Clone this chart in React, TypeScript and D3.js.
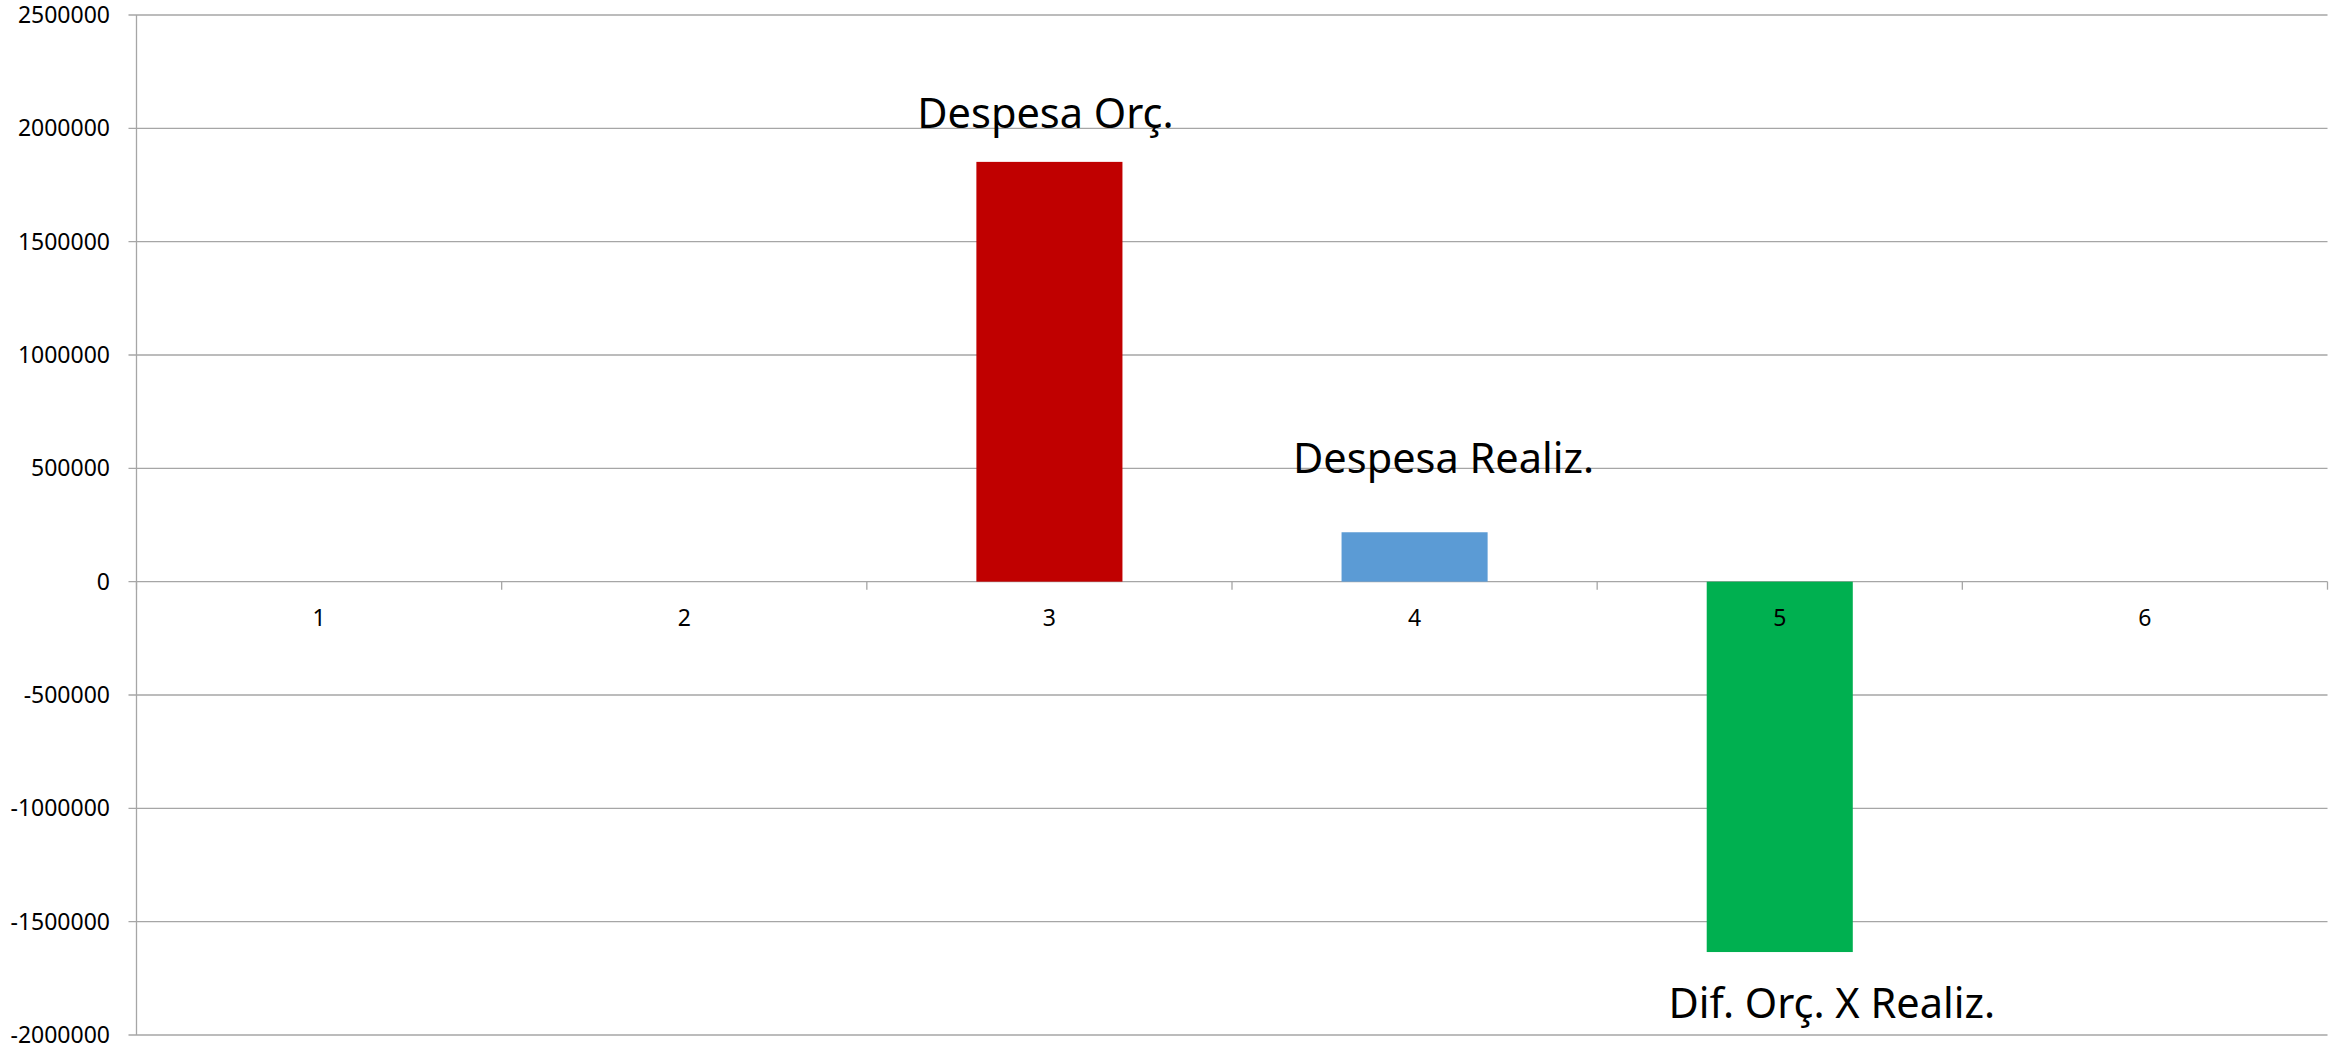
import React from "react";
import * as d3 from "d3";

const categories = ["1", "2", "3", "4", "5", "6"];
const seriesNames = ["Despesa Orç.", "Despesa Realiz.", "Dif. Orç. X Realiz."];
const seriesCategory = ["3", "4", "5"];
const seriesValues = [1852000, 218000, -1634000];
const seriesColors = ["#C00000", "#5B9BD5", "#00B050"];
const yTicks = [-2000000, -1500000, -1000000, -500000, 0, 500000, 1000000, 1500000, 2000000, 2500000];

// hand-placed data labels, px offset from bar end [dx, dy]
const labelOffsets = [
  [-4, -34],
  [29, -59],
  [52, 66],
];

const W = 2344;
const H = 1048;
const margin = { left: 136.5, right: 16.5, top: 15, bottom: 13 };
const gridColor = "#A6A6A6";
const font = "'Noto Sans', 'Open Sans', sans-serif";

export default function App() {
  const x = d3
    .scaleBand()
    .domain(categories)
    .range([margin.left, W - margin.right])
    .paddingInner(0.6)
    .paddingOuter(0.3);
  const y = d3
    .scaleLinear()
    .domain([-2000000, 2500000])
    .range([H - margin.bottom, margin.top]);

  const step = x.step();
  const y0 = y(0);

  return (
    <svg
      width={W}
      height={H}
      style={{ position: "absolute", left: 0, top: 0, background: "#fff" }}
    >
      {/* gridlines + y ticks */}
      {yTicks.map((t) => (
        <g key={t}>
          <line
            x1={margin.left - 8}
            x2={W - margin.right}
            y1={y(t)}
            y2={y(t)}
            stroke={gridColor}
            strokeWidth={1.3}
          />
          <text
            x={110}
            y={y(t) - 1}
            textAnchor="end"
            dominantBaseline="central"
            fontFamily={font}
            fontSize={23}
            fill="#000"
          >
            {t}
          </text>
        </g>
      ))}
      {/* y axis */}
      <line
        x1={margin.left}
        x2={margin.left}
        y1={y.range()[1]}
        y2={y.range()[0]}
        stroke={gridColor}
        strokeWidth={1.3}
      />
      {/* bars */}
      {seriesValues.map((v, i) => {
        const bx = x(seriesCategory[i]) as number;
        const top = Math.min(y(v), y0);
        return (
          <rect
            key={i}
            x={bx}
            y={top}
            width={x.bandwidth()}
            height={Math.abs(y(v) - y0)}
            fill={seriesColors[i]}
          />
        );
      })}
      {/* category axis ticks */}
      {d3.range(categories.length + 1).map((i) => {
        const tx = margin.left + i * step;
        return (
          <line
            key={i}
            x1={tx}
            x2={tx}
            y1={y0}
            y2={y0 + 8}
            stroke={gridColor}
            strokeWidth={1.3}
          />
        );
      })}
      {categories.map((c) => (
        <text
          key={c}
          x={(x(c) as number) + x.bandwidth() / 2}
          y={y0 + 35}
          textAnchor="middle"
          dominantBaseline="central"
          fontFamily={font}
          fontSize={23}
          fill="#000"
        >
          {c}
        </text>
      ))}
      {/* data labels */}
      {seriesValues.map((v, i) => {
        const cx = (x(seriesCategory[i]) as number) + x.bandwidth() / 2;
        return (
          <text
            key={i}
            x={cx + labelOffsets[i][0]}
            y={y(v) + labelOffsets[i][1]}
            textAnchor="middle"
            fontFamily={font}
            fontSize={41.5}
            fill="#000"
          >
            {seriesNames[i]}
          </text>
        );
      })}
    </svg>
  );
}
